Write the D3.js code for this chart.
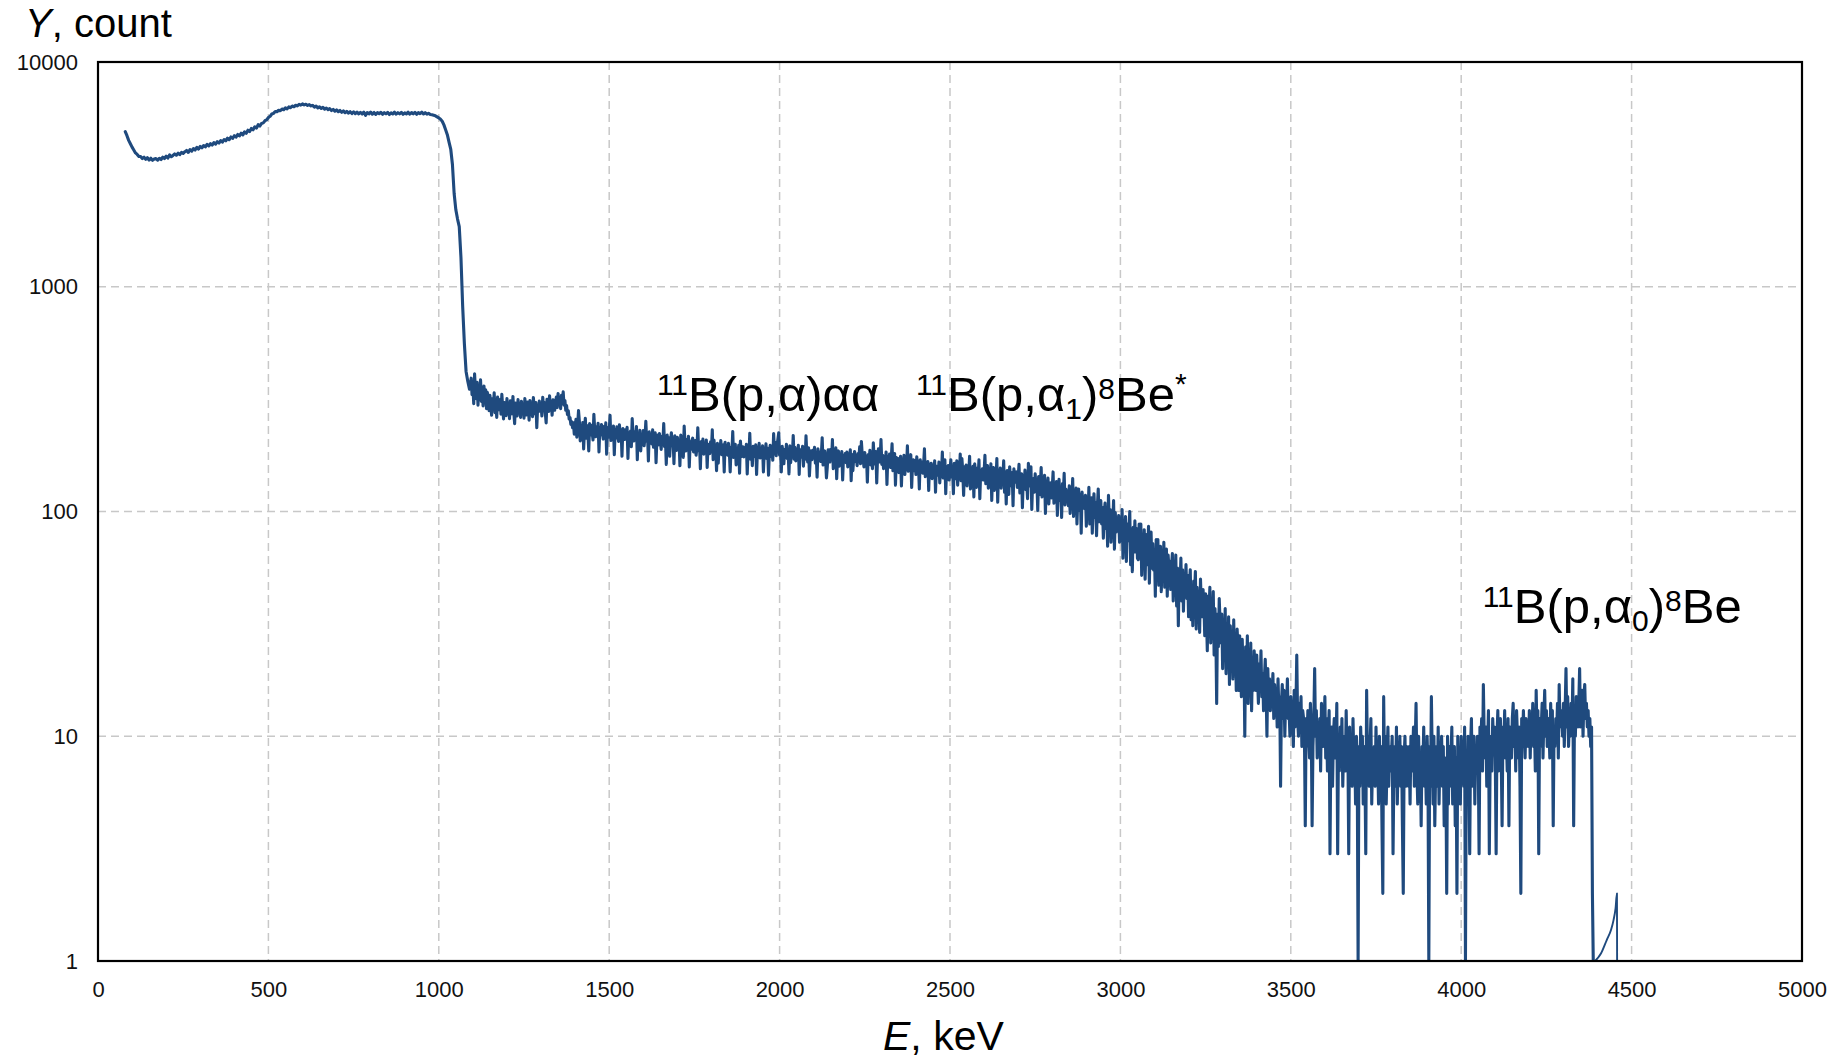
<!DOCTYPE html>
<html>
<head>
<meta charset="utf-8">
<script src="https://cdn.jsdelivr.net/npm/d3@7"></script>
<style>
  html, body { margin: 0; padding: 0; background: #fff; }
  svg { display: block; font-family: "Liberation Sans", Arial, sans-serif; }
</style>
</head>
<body>
<svg id="chart" width="1834" height="1061"></svg>
<script>
// Alpha-particle spectrum: counts per channel, listed block by block.

// 80 – 1000 keV, 5 keV channels
const lowEnergyCounts = [
  4900,4700,4480,4330,4180,4060,3940,3880,3800,3800,
  3720,3770,3690,3750,3660,3730,3650,3700,3720,3660,
  3730,3680,3770,3720,3810,3740,3860,3790,3840,3900,
  3850,3930,3870,3960,3920,3990,4040,3960,4080,4010,
  4120,4060,4170,4100,4210,4150,4250,4190,4300,4230,
  4330,4270,4380,4310,4420,4360,4470,4400,4520,4460,
  4580,4510,4640,4570,4700,4630,4760,4690,4820,4740,
  4890,4820,4970,4900,5060,4990,5150,5080,5260,5190,
  5330,5360,5480,5530,5660,5730,5870,5910,6020,6010,
  6100,6070,6180,6130,6250,6190,6310,6260,6370,6320,
  6420,6380,6480,6430,6510,6440,6490,6410,6460,6380,
  6410,6300,6370,6250,6320,6210,6280,6170,6240,6130,
  6200,6080,6150,6040,6120,6010,6090,5970,6060,5950,
  6030,5920,6010,5900,6000,5890,5990,5880,5970,5870,
  5980,5790,5960,5880,5990,5860,5960,5850,5950,5890,
  5970,5850,5950,5880,5970,5840,5940,5870,5980,5860,
  5950,5880,5970,5850,5940,5870,5980,5860,5960,5880,
  5970,5850,5950,5890,5980,5870,5950,5860,5910,5840,
  5820,5790,5760,5700,5640
];
// 1005 – 1090 keV, 5 keV channels
const edgeCounts = [
  5560,5450,5250,5000,4750,4400,4100,3500,2600,2200,
  2000,1850,1350,820,560,420,380,350
];
// 1095 – 1392.5 keV, 2.5 keV channels
const shoulderCounts = [
  392,331,365,302,410,344,318,376,297,352,328,385,309,341,295,362,320,348,287,339,
  312,281,329,296,268,318,290,337,275,306,262,323,298,284,315,271,332,289,258,305,
  296,267,318,281,302,259,311,288,272,325,279,246,304,291,266,315,283,297,262,309,
  275,301,260,318,286,269,307,291,255,312,280,298,264,321,287,272,305,236,293,278,
  310,281,297,266,322,289,305,274,248,316,293,279,327,285,301,268,314,296,282,307,
  323,290,335,302,318,287,329,306,341,297,312,282,296,270,281,258,262,244,251,236
];
// 1395 – 2492.5 keV, 2.5 keV channels
const continuumCounts = [
  248,221,239,257,214,243,281,252,206,237,225,249,190,233,260,212,241,224,186,246,
  219,242,226,208,271,230,215,238,222,247,184,235,219,244,227,210,239,221,248,180,
  236,214,229,268,207,226,218,240,179,231,212,238,221,205,243,216,228,176,234,220,
  209,231,215,237,172,224,211,228,194,259,218,206,227,213,239,170,222,208,230,186,
  218,203,229,196,214,252,205,221,168,226,209,217,200,231,193,215,224,165,211,219,
  198,222,207,189,216,201,246,194,211,162,219,203,213,176,207,224,196,210,163,217,
  205,187,214,196,208,160,219,192,201,174,240,198,186,209,193,216,158,203,189,207,
  212,184,199,207,178,193,236,186,201,155,205,191,210,180,196,185,208,157,199,190,
  181,204,189,231,170,208,185,193,152,201,164,195,186,207,179,190,198,150,203,184,
  196,178,201,185,150,193,182,227,174,188,199,161,191,180,197,148,206,183,176,194,
  175,192,184,199,147,187,178,223,171,190,160,195,183,176,198,146,188,181,201,173,
  189,174,196,150,186,179,200,172,191,145,184,197,176,188,169,222,181,203,177,196,
  210,224,178,190,150,195,183,163,189,176,199,172,186,147,196,165,191,178,218,171,
  193,168,185,177,197,146,188,174,182,195,159,184,171,217,176,166,192,144,173,186,
  170,187,175,193,164,181,142,190,172,184,167,179,213,161,176,186,169,141,158,188,
  177,166,189,171,209,155,179,168,192,140,174,186,159,180,170,185,138,176,167,181,
  165,184,158,176,170,188,137,179,152,173,185,167,177,160,181,171,194,163,205,178,
  172,158,183,165,176,135,179,168,187,161,174,155,202,170,163,185,134,176,190,166,
  173,209,162,178,155,171,166,184,132,175,163,180,157,170,200,152,168,181,131,174,
  158,172,149,167,176,130,169,161,178,146,165,157,196,151,168,163,179,128,162,170,
  152,168,146,175,159,163,126,170,155,166,148,161,190,143,158,153,167,124,162,151,
  164,140,156,149,168,122,159,151,145,166,134,157,148,184,141,153,170,120,158,146
];
// 2495 – 3392.5 keV, 2.5 keV channels
const falloffCounts = [
  160,138,153,170,142,157,120,164,148,140,168,131,155,146,180,137,172,150,118,158,
  143,161,130,154,148,176,126,152,140,159,116,163,147,128,156,142,170,114,150,145,
  155,138,149,178,133,146,160,127,151,141,163,112,148,157,124,145,139,172,110,150,
  136,156,127,148,141,168,122,145,108,152,138,119,158,140,130,149,106,155,135,144,
  150,128,142,162,121,139,147,104,144,132,153,125,138,114,164,130,142,158,102,136,
  140,122,147,126,135,101,143,119,131,157,116,137,124,145,98,133,128,141,108,130,
  134,115,127,150,109,130,118,136,96,124,139,112,128,94,133,120,148,107,126,117,
  121,106,130,98,118,112,140,95,124,104,127,88,115,126,101,119,80,122,108,116,
  103,118,86,112,97,128,88,108,115,80,104,120,94,110,78,106,126,90,101,112,
  88,104,76,98,109,84,96,70,118,90,102,73,95,86,112,68,99,81,93,87,
  96,73,90,80,102,62,86,77,95,60,88,74,83,100,58,79,54,85,66,91,
  66,84,62,61,88,73,88,52,76,67,83,50,72,79,58,86,48,70,81,56,
  72,55,66,42,75,58,75,47,63,70,44,65,57,73,46,61,68,42,64,56,
  60,45,57,65,40,54,50,64,38,56,31,52,47,62,40,55,36,53,44,58,
  41,52,34,47,55,33,45,31,49,42,54,30,46,36,44,29,50,38,34,45,
  39,28,43,34,24,42,36,46,26,38,31,44,23,37,29,14,35,25,41,32,
  26,35,20,31,25,37,19,29,22,34,17,31,23,28,18,33,21,27,16,30,
  25,16,28,20,15,27,19,23,10,25,17,28,14,22,19,26,13,21,16,24
];
// 3395 – 4387.5 keV, 2.5 keV channels
const highEnergyCounts = [
  20,16,23,18,14,21,17,24,15,19,13,18,22,16,10,20,15,18,13,17,
  15,19,12,17,14,16,11,18,13,15,6,14,17,12,16,10,15,13,18,12,
  13,10,15,12,14,9,16,11,13,23,12,10,14,11,15,9,13,12,10,4,
  12,9,13,10,8,14,11,4,9,12,20,10,13,8,11,9,12,7,14,10,
  9,11,15,8,12,7,10,13,3,9,11,6,10,12,8,9,14,3,10,7,
  11,8,12,6,9,10,7,13,8,9,3,11,7,10,6,12,8,9,5,10,
  7,0,9,6,11,8,10,5,9,7,3,16,8,10,6,9,12,5,8,7,
  9,6,11,7,8,5,10,6,9,4,2,15,7,10,5,8,11,6,9,7,
  8,10,3,7,9,6,11,5,8,7,10,6,9,4,2,8,10,6,9,7,
  6,9,5,10,7,8,11,6,9,14,7,5,10,6,8,4,9,7,11,6,
  8,5,10,7,0,9,6,15,8,5,10,4,7,9,6,11,5,8,7,10,
  6,9,4,8,7,2,10,5,9,6,8,11,5,7,9,4,8,2,10,6,
  8,5,10,7,9,6,11,0,8,6,10,7,3,9,12,6,8,10,5,9,
  7,10,8,3,11,9,12,7,17,10,8,11,6,9,13,3,8,10,7,12,
  9,11,8,3,10,13,7,9,12,8,4,11,9,13,8,10,7,12,4,11,
  10,8,12,14,9,11,7,13,10,8,11,6,2,12,9,13,10,8,12,9,
  11,9,13,8,12,10,14,9,11,7,16,10,13,3,12,9,11,14,8,12,
  16,10,13,9,12,11,8,14,10,13,4,11,9,12,10,14,8,17,11,13,
  12,10,14,9,13,20,11,15,9,12,10,14,11,18,4,13,10,15,12,11,
  14,20,11,13,16,10,15,17,12,14,11,13,10,12,9,11,2,0
];
const segmentStarts = [80, 1005, 1095, 1395, 2495, 3395]; // keV, first channel of each block
const segmentSteps  = [5, 5, 2.5, 2.5, 2.5, 2.5];         // keV per channel

// Low-count tail beyond the cut-off
const tailEnergies = [4393, 4410, 4427, 4440, 4447, 4453, 4457, 4457.5];
const tailCounts   = [1, 1.08, 1.24, 1.38, 1.52, 1.72, 2.0, 1];

const xTickValues = [0, 500, 1000, 1500, 2000, 2500, 3000, 3500, 4000, 4500, 5000];
const yTickValues = [1, 10, 100, 1000, 10000];

// Reaction labels: anchor (keV, count) and rich-text runs
const labelEnergies = [1640, 2400, 4063];
const labelCounts   = [280, 280, 32];
const labelRuns = [
  [["11","sup"],["B(p,α)αα",""]],
  [["11","sup"],["B(p,α",""],["1","sub"],[")",""],["8","sup2"],["Be",""],["*","star"]],
  [["11","sup"],["B(p,α",""],["0","sub"],[")",""],["8","sup2"],["Be",""]]
];

(function () {
  // ---- build the channel table ----
  const blocks = [lowEnergyCounts, edgeCounts, shoulderCounts, continuumCounts, falloffCounts, highEnergyCounts];
  const spectrum = [];
  blocks.forEach((arr, b) => {
    arr.forEach((c, i) => spectrum.push({ e: segmentStarts[b] + i * segmentSteps[b], c }));
  });
  const tail = tailEnergies.map((e, i) => ({ e, c: tailCounts[i] }));

  // ---- layout ----
  const svg = d3.select("#chart");
  const plotLeft = 98, plotRight = 1802, plotTop = 62, plotBottom = 961;
  const lineColor = "#1f4a7e";

  svg.append("rect").attr("width", 1834).attr("height", 1061).attr("fill", "#fff");

  const x = d3.scaleLinear().domain([0, 5000]).range([plotLeft, plotRight]);
  const y = d3.scaleLog().domain([1, 10000]).range([plotBottom, plotTop]);

  // grid
  const grid = svg.append("g").attr("stroke", "#c8c8c8").attr("stroke-width", 1.5)
    .attr("stroke-dasharray", "8,5").attr("fill", "none");
  grid.selectAll("line.v").data(xTickValues.slice(1, -1)).join("line").attr("class", "v")
    .attr("x1", d => x(d)).attr("x2", d => x(d)).attr("y1", plotTop).attr("y2", plotBottom);
  grid.selectAll("line.h").data(yTickValues.slice(1, -1)).join("line").attr("class", "h")
    .attr("y1", d => y(d)).attr("y2", d => y(d)).attr("x1", plotLeft).attr("x2", plotRight);

  // axes (labels only, no tick marks)
  const xAxis = svg.append("g").attr("transform", `translate(0,${plotBottom})`)
    .call(d3.axisBottom(x).tickValues(xTickValues).tickSize(0).tickPadding(20).tickFormat(d3.format("d")));
  const yAxis = svg.append("g").attr("transform", `translate(${plotLeft},0)`)
    .call(d3.axisLeft(y).tickValues(yTickValues).tickSize(0).tickPadding(20).tickFormat(d3.format("d")));
  [xAxis, yAxis].forEach(g => {
    g.select(".domain").remove();
    g.selectAll("text").attr("font-size", 22).attr("font-family", "Liberation Sans, Arial, sans-serif").attr("fill", "#111");
  });

  // spectrum
  svg.append("clipPath").attr("id", "plotClip").append("rect")
    .attr("x", plotLeft).attr("y", plotTop - 2).attr("width", plotRight - plotLeft).attr("height", plotBottom - plotTop + 2);
  const line = d3.line().x(d => x(d.e)).y(d => y(Math.max(d.c, 1)));
  const plot = svg.append("g").attr("clip-path", "url(#plotClip)");
  plot.append("path").datum(spectrum).attr("d", line)
    .attr("fill", "none").attr("stroke", lineColor).attr("stroke-width", 3.1)
    .attr("stroke-linejoin", "round").attr("stroke-linecap", "round");
  plot.append("path").datum(tail).attr("d", d3.line().x(d => x(d.e)).y(d => y(d.c)).curve(d3.curveMonotoneX))
    .attr("fill", "none").attr("stroke", lineColor).attr("stroke-width", 1.9)
    .attr("stroke-linejoin", "round");

  // frame
  svg.append("rect").attr("x", plotLeft).attr("y", plotTop).attr("width", plotRight - plotLeft).attr("height", plotBottom - plotTop)
    .attr("fill", "none").attr("stroke", "#000").attr("stroke-width", 2.2);

  // axis titles
  const yTitle = svg.append("text").attr("x", 25).attr("y", 37).attr("font-size", 40).attr("fill", "#000");
  yTitle.append("tspan").attr("font-style", "italic").text("Y");
  yTitle.append("tspan").text(", count");
  const xTitle = svg.append("text").attr("x", 883).attr("y", 1050).attr("font-size", 41).attr("fill", "#000");
  xTitle.append("tspan").attr("font-style", "italic").text("E");
  xTitle.append("tspan").text(", keV");

  // reaction labels
  const shift = { "": 0, sup: -16, sup2: -12, sub: 8, star: -17 };
  labelRuns.forEach((runs, k) => {
    const t = svg.append("text").attr("x", x(labelEnergies[k])).attr("y", y(labelCounts[k]))
      .attr("font-size", 49).attr("fill", "#000");
    let cur = 0;
    runs.forEach(([txt, kind]) => {
      const target = shift[kind];
      t.append("tspan").attr("dy", target - cur).attr("font-size", kind ? 30 : 49).text(txt);
      cur = target;
    });
  });
})();
</script>
</body>
</html>
